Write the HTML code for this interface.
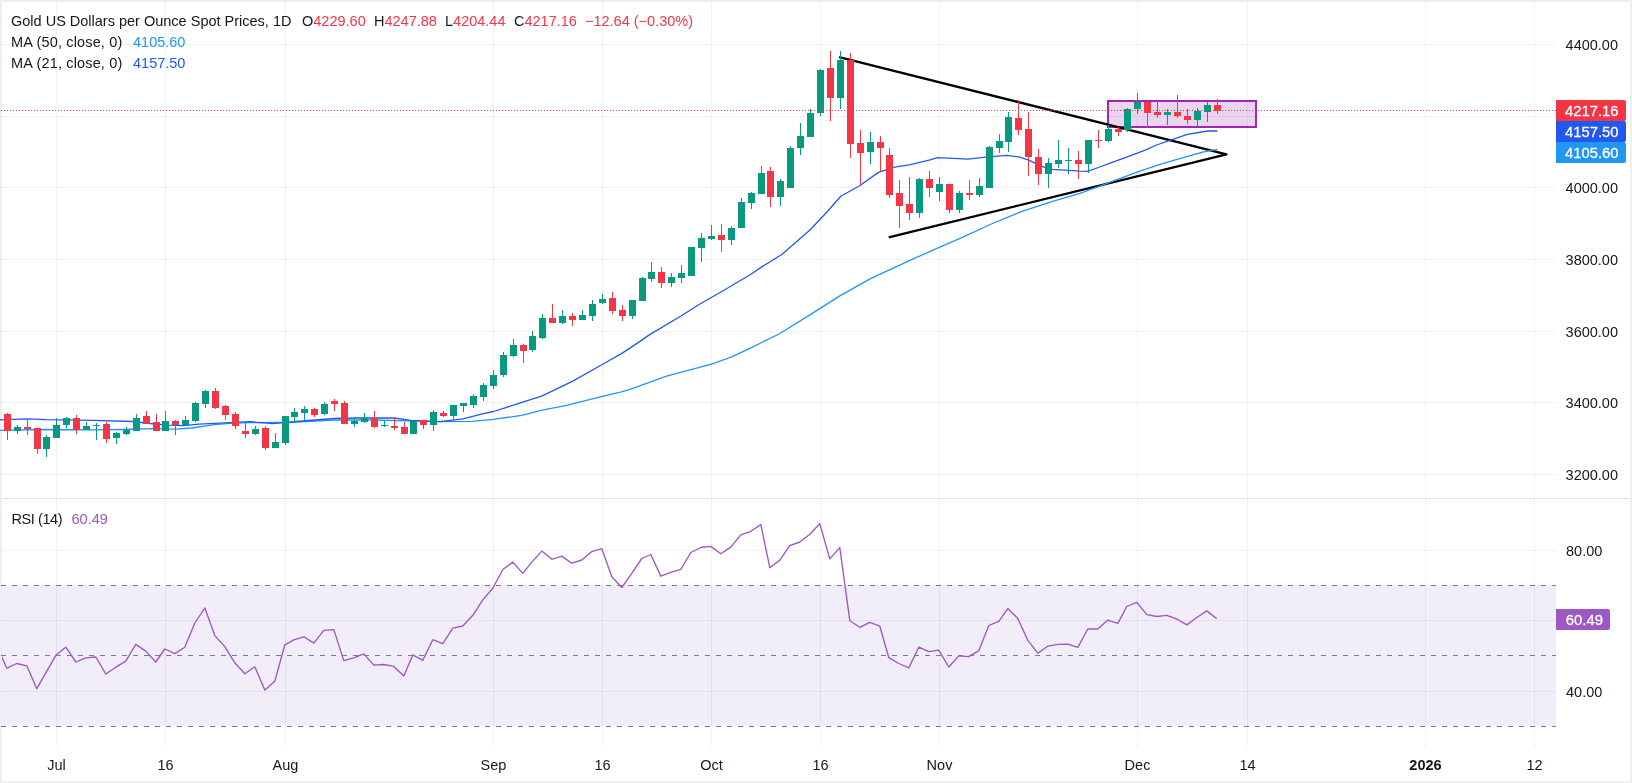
<!DOCTYPE html><html><head><meta charset="utf-8"><style>html,body{margin:0;padding:0;background:#fff;overflow:hidden;}svg{display:block;will-change:transform;}text{font-family:"Liberation Sans",sans-serif;}</style></head><body>
<svg width="1632" height="783" viewBox="0 0 1632 783" shape-rendering="crispEdges">
<rect x="0" y="0" width="1632" height="783" fill="#fff"/>
<rect x="0" y="0" width="1632" height="2" fill="#ECEEF2"/>
<rect x="0" y="781" width="1632" height="2" fill="#ECEEF2"/>
<rect x="0" y="0" width="2" height="783" fill="#ECEEF2"/>
<rect x="1630" y="0" width="2" height="783" fill="#ECEEF2"/>
<rect x="2" y="585" width="1554" height="141" fill="#F1EDF9"/>
<rect x="2" y="44" width="1554" height="1" fill="#2A2E39" fill-opacity="0.065"/>
<rect x="2" y="116" width="1554" height="1" fill="#2A2E39" fill-opacity="0.065"/>
<rect x="2" y="187" width="1554" height="1" fill="#2A2E39" fill-opacity="0.065"/>
<rect x="2" y="259" width="1554" height="1" fill="#2A2E39" fill-opacity="0.065"/>
<rect x="2" y="331" width="1554" height="1" fill="#2A2E39" fill-opacity="0.065"/>
<rect x="2" y="402" width="1554" height="1" fill="#2A2E39" fill-opacity="0.065"/>
<rect x="2" y="474" width="1554" height="1" fill="#2A2E39" fill-opacity="0.065"/>
<rect x="2" y="550" width="1554" height="1" fill="#2A2E39" fill-opacity="0.065"/>
<rect x="2" y="620" width="1554" height="1" fill="#2A2E39" fill-opacity="0.065"/>
<rect x="2" y="691" width="1554" height="1" fill="#2A2E39" fill-opacity="0.065"/>
<rect x="56" y="2" width="1" height="496" fill="#2A2E39" fill-opacity="0.065"/>
<rect x="56" y="499" width="1" height="248" fill="#2A2E39" fill-opacity="0.065"/>
<rect x="165" y="2" width="1" height="496" fill="#2A2E39" fill-opacity="0.065"/>
<rect x="165" y="499" width="1" height="248" fill="#2A2E39" fill-opacity="0.065"/>
<rect x="285" y="2" width="1" height="496" fill="#2A2E39" fill-opacity="0.065"/>
<rect x="285" y="499" width="1" height="248" fill="#2A2E39" fill-opacity="0.065"/>
<rect x="493" y="2" width="1" height="496" fill="#2A2E39" fill-opacity="0.065"/>
<rect x="493" y="499" width="1" height="248" fill="#2A2E39" fill-opacity="0.065"/>
<rect x="602" y="2" width="1" height="496" fill="#2A2E39" fill-opacity="0.065"/>
<rect x="602" y="499" width="1" height="248" fill="#2A2E39" fill-opacity="0.065"/>
<rect x="711" y="2" width="1" height="496" fill="#2A2E39" fill-opacity="0.065"/>
<rect x="711" y="499" width="1" height="248" fill="#2A2E39" fill-opacity="0.065"/>
<rect x="820" y="2" width="1" height="496" fill="#2A2E39" fill-opacity="0.065"/>
<rect x="820" y="499" width="1" height="248" fill="#2A2E39" fill-opacity="0.065"/>
<rect x="939" y="2" width="1" height="496" fill="#2A2E39" fill-opacity="0.065"/>
<rect x="939" y="499" width="1" height="248" fill="#2A2E39" fill-opacity="0.065"/>
<rect x="1137" y="2" width="1" height="496" fill="#2A2E39" fill-opacity="0.065"/>
<rect x="1137" y="499" width="1" height="248" fill="#2A2E39" fill-opacity="0.065"/>
<rect x="1247" y="2" width="1" height="496" fill="#2A2E39" fill-opacity="0.065"/>
<rect x="1247" y="499" width="1" height="248" fill="#2A2E39" fill-opacity="0.065"/>
<rect x="1425" y="2" width="1" height="496" fill="#2A2E39" fill-opacity="0.065"/>
<rect x="1425" y="499" width="1" height="248" fill="#2A2E39" fill-opacity="0.065"/>
<rect x="1534" y="2" width="1" height="496" fill="#2A2E39" fill-opacity="0.065"/>
<rect x="1534" y="499" width="1" height="248" fill="#2A2E39" fill-opacity="0.065"/>
<rect x="2" y="498" width="1628" height="1" fill="#E0E3EB"/>
<line x1="1" y1="585.5" x2="1556" y2="585.5" stroke="#787B86" stroke-width="1" stroke-dasharray="5,6"/>
<line x1="1" y1="655.5" x2="1556" y2="655.5" stroke="#787B86" stroke-width="1" stroke-dasharray="5,6"/>
<line x1="1" y1="726.5" x2="1556" y2="726.5" stroke="#787B86" stroke-width="1" stroke-dasharray="5,6"/>
<rect x="1108" y="101" width="148" height="26" fill="#9C27B0" fill-opacity="0.2" stroke="#9C27B0" stroke-width="2" shape-rendering="geometricPrecision"/>
<polyline points="839.1,57.2 1226.4,154.4 888.7,237.4" fill="none" stroke="#000" stroke-width="2.4" shape-rendering="geometricPrecision" stroke-linejoin="round" stroke-linecap="butt"/>
<polyline points="0.0,430.3 46.0,429.5 92.0,429.8 122.5,429.5 153.2,428.7 176.0,429.2 191.5,428.0 214.5,424.6 229.8,423.4 250.0,422.6 296.0,422.2 334.3,420.0 372.5,420.0 418.5,421.1 440.0,421.7 471.9,421.3 493.6,419.4 521.7,415.3 542.2,410.2 567.7,405.1 602.2,396.4 621.4,391.9 630.0,389.4 666.5,376.2 711.5,364.1 731.2,357.1 750.9,347.8 779.0,334.0 809.9,314.9 839.4,296.1 870.0,278.9 909.4,260.7 939.2,247.3 960.7,238.1 991.3,224.0 1022.0,211.3 1052.6,201.3 1080.0,193.4 1100.4,185.9 1120.9,178.2 1141.3,170.6 1161.7,163.9 1182.2,157.8 1202.6,152.2 1217.4,149.4" fill="none" stroke="#2196F3" stroke-width="1.3" shape-rendering="geometricPrecision" stroke-linejoin="round"/>
<polyline points="0.0,419.9 27.0,418.8 46.0,419.6 92.0,420.3 133.0,421.5 150.0,423.5 168.5,425.2 183.8,425.7 199.0,424.1 229.8,422.6 250.0,421.7 273.0,423.7 296.0,421.5 334.3,418.5 357.2,418.0 394.0,418.0 410.8,420.3 440.0,421.7 463.0,418.8 483.4,413.7 493.6,411.5 516.6,404.1 542.2,395.8 572.8,381.1 602.2,364.5 621.4,353.6 630.0,348.1 649.7,334.6 680.6,316.3 700.3,303.7 722.7,291.0 750.9,274.2 762.1,266.6 781.8,254.5 809.9,230.0 826.7,212.3 840.8,196.3 860.0,185.5 878.4,172.4 894.5,167.1 909.4,164.8 930.0,159.9 937.7,157.6 968.3,159.2 985.2,157.2 1006.6,155.3 1018.9,156.9 1028.1,159.9 1045.0,167.6 1052.6,169.4 1080.0,171.1 1087.2,171.3 1098.4,167.5 1110.7,162.9 1126.0,157.3 1146.4,149.6 1156.6,145.0 1169.9,140.4 1187.3,134.3 1207.7,131.0 1217.4,131.0" fill="none" stroke="#2158F0" stroke-width="1.3" shape-rendering="geometricPrecision" stroke-linejoin="round"/>
<rect x="7" y="413" width="1" height="27" fill="#F23645"/>
<rect x="4" y="414" width="7" height="17" fill="#F23645"/>
<rect x="17" y="425" width="1" height="9" fill="#089981"/>
<rect x="14" y="427" width="7" height="4" fill="#089981"/>
<rect x="27" y="420" width="1" height="15" fill="#F23645"/>
<rect x="24" y="427" width="7" height="2" fill="#F23645"/>
<rect x="37" y="428" width="1" height="26" fill="#F23645"/>
<rect x="34" y="428" width="7" height="21" fill="#F23645"/>
<rect x="46" y="435" width="1" height="22" fill="#089981"/>
<rect x="43" y="437" width="7" height="12" fill="#089981"/>
<rect x="56" y="418" width="1" height="20" fill="#089981"/>
<rect x="53" y="425" width="7" height="13" fill="#089981"/>
<rect x="66" y="417" width="1" height="11" fill="#089981"/>
<rect x="63" y="418" width="7" height="7" fill="#089981"/>
<rect x="76" y="415" width="1" height="19" fill="#F23645"/>
<rect x="73" y="418" width="7" height="12" fill="#F23645"/>
<rect x="86" y="422" width="1" height="8" fill="#089981"/>
<rect x="83" y="426" width="7" height="4" fill="#089981"/>
<rect x="96" y="423" width="1" height="17" fill="#089981"/>
<rect x="93" y="425" width="7" height="1" fill="#089981"/>
<rect x="106" y="422" width="1" height="21" fill="#F23645"/>
<rect x="103" y="424" width="7" height="15" fill="#F23645"/>
<rect x="116" y="432" width="1" height="12" fill="#089981"/>
<rect x="113" y="433" width="7" height="5" fill="#089981"/>
<rect x="126" y="427" width="1" height="8" fill="#089981"/>
<rect x="123" y="430" width="7" height="4" fill="#089981"/>
<rect x="136" y="414" width="1" height="17" fill="#089981"/>
<rect x="133" y="418" width="7" height="13" fill="#089981"/>
<rect x="146" y="411" width="1" height="13" fill="#F23645"/>
<rect x="143" y="416" width="7" height="8" fill="#F23645"/>
<rect x="156" y="414" width="1" height="17" fill="#F23645"/>
<rect x="153" y="422" width="7" height="9" fill="#F23645"/>
<rect x="165" y="411" width="1" height="20" fill="#089981"/>
<rect x="162" y="421" width="7" height="10" fill="#089981"/>
<rect x="175" y="420" width="1" height="15" fill="#F23645"/>
<rect x="172" y="421" width="7" height="4" fill="#F23645"/>
<rect x="185" y="416" width="1" height="10" fill="#089981"/>
<rect x="182" y="420" width="7" height="5" fill="#089981"/>
<rect x="195" y="402" width="1" height="20" fill="#089981"/>
<rect x="192" y="403" width="7" height="18" fill="#089981"/>
<rect x="205" y="390" width="1" height="18" fill="#089981"/>
<rect x="202" y="391" width="7" height="13" fill="#089981"/>
<rect x="215" y="388" width="1" height="21" fill="#F23645"/>
<rect x="212" y="391" width="7" height="17" fill="#F23645"/>
<rect x="225" y="405" width="1" height="15" fill="#F23645"/>
<rect x="222" y="406" width="7" height="9" fill="#F23645"/>
<rect x="235" y="412" width="1" height="17" fill="#F23645"/>
<rect x="232" y="414" width="7" height="12" fill="#F23645"/>
<rect x="245" y="422" width="1" height="16" fill="#F23645"/>
<rect x="242" y="431" width="7" height="3" fill="#F23645"/>
<rect x="255" y="426" width="1" height="9" fill="#089981"/>
<rect x="252" y="429" width="7" height="5" fill="#089981"/>
<rect x="265" y="426" width="1" height="24" fill="#F23645"/>
<rect x="262" y="428" width="7" height="20" fill="#F23645"/>
<rect x="275" y="433" width="1" height="15" fill="#089981"/>
<rect x="272" y="442" width="7" height="6" fill="#089981"/>
<rect x="285" y="416" width="1" height="29" fill="#089981"/>
<rect x="282" y="416" width="7" height="27" fill="#089981"/>
<rect x="294" y="408" width="1" height="14" fill="#089981"/>
<rect x="291" y="412" width="7" height="5" fill="#089981"/>
<rect x="304" y="406" width="1" height="14" fill="#089981"/>
<rect x="301" y="409" width="7" height="4" fill="#089981"/>
<rect x="314" y="408" width="1" height="9" fill="#F23645"/>
<rect x="311" y="409" width="7" height="6" fill="#F23645"/>
<rect x="324" y="402" width="1" height="13" fill="#089981"/>
<rect x="321" y="404" width="7" height="10" fill="#089981"/>
<rect x="334" y="399" width="1" height="12" fill="#F23645"/>
<rect x="331" y="401" width="7" height="3" fill="#F23645"/>
<rect x="344" y="401" width="1" height="23" fill="#F23645"/>
<rect x="341" y="403" width="7" height="21" fill="#F23645"/>
<rect x="354" y="417" width="1" height="10" fill="#089981"/>
<rect x="351" y="421" width="7" height="3" fill="#089981"/>
<rect x="364" y="413" width="1" height="10" fill="#089981"/>
<rect x="361" y="418" width="7" height="4" fill="#089981"/>
<rect x="374" y="411" width="1" height="17" fill="#F23645"/>
<rect x="371" y="418" width="7" height="9" fill="#F23645"/>
<rect x="384" y="421" width="1" height="6" fill="#089981"/>
<rect x="381" y="425" width="7" height="1" fill="#089981"/>
<rect x="394" y="417" width="1" height="13" fill="#F23645"/>
<rect x="391" y="426" width="7" height="2" fill="#F23645"/>
<rect x="404" y="422" width="1" height="12" fill="#F23645"/>
<rect x="401" y="427" width="7" height="7" fill="#F23645"/>
<rect x="413" y="420" width="1" height="14" fill="#089981"/>
<rect x="410" y="421" width="7" height="13" fill="#089981"/>
<rect x="423" y="420" width="1" height="9" fill="#F23645"/>
<rect x="420" y="420" width="7" height="5" fill="#F23645"/>
<rect x="433" y="410" width="1" height="21" fill="#089981"/>
<rect x="430" y="412" width="7" height="13" fill="#089981"/>
<rect x="443" y="411" width="1" height="6" fill="#F23645"/>
<rect x="440" y="413" width="7" height="3" fill="#F23645"/>
<rect x="453" y="405" width="1" height="15" fill="#089981"/>
<rect x="450" y="405" width="7" height="11" fill="#089981"/>
<rect x="463" y="403" width="1" height="9" fill="#089981"/>
<rect x="460" y="403" width="7" height="3" fill="#089981"/>
<rect x="473" y="394" width="1" height="14" fill="#089981"/>
<rect x="470" y="396" width="7" height="9" fill="#089981"/>
<rect x="483" y="383" width="1" height="18" fill="#089981"/>
<rect x="480" y="385" width="7" height="12" fill="#089981"/>
<rect x="493" y="370" width="1" height="19" fill="#089981"/>
<rect x="490" y="375" width="7" height="11" fill="#089981"/>
<rect x="503" y="352" width="1" height="25" fill="#089981"/>
<rect x="500" y="355" width="7" height="20" fill="#089981"/>
<rect x="513" y="339" width="1" height="18" fill="#089981"/>
<rect x="510" y="345" width="7" height="11" fill="#089981"/>
<rect x="523" y="344" width="1" height="19" fill="#F23645"/>
<rect x="520" y="345" width="7" height="6" fill="#F23645"/>
<rect x="532" y="331" width="1" height="21" fill="#089981"/>
<rect x="529" y="336" width="7" height="14" fill="#089981"/>
<rect x="542" y="314" width="1" height="25" fill="#089981"/>
<rect x="539" y="318" width="7" height="20" fill="#089981"/>
<rect x="552" y="304" width="1" height="19" fill="#F23645"/>
<rect x="549" y="318" width="7" height="5" fill="#F23645"/>
<rect x="562" y="310" width="1" height="14" fill="#089981"/>
<rect x="559" y="316" width="7" height="7" fill="#089981"/>
<rect x="572" y="313" width="1" height="13" fill="#F23645"/>
<rect x="569" y="316" width="7" height="4" fill="#F23645"/>
<rect x="582" y="310" width="1" height="10" fill="#089981"/>
<rect x="579" y="315" width="7" height="5" fill="#089981"/>
<rect x="592" y="300" width="1" height="21" fill="#089981"/>
<rect x="589" y="304" width="7" height="12" fill="#089981"/>
<rect x="602" y="294" width="1" height="10" fill="#089981"/>
<rect x="599" y="299" width="7" height="4" fill="#089981"/>
<rect x="612" y="292" width="1" height="22" fill="#F23645"/>
<rect x="609" y="298" width="7" height="13" fill="#F23645"/>
<rect x="622" y="305" width="1" height="16" fill="#F23645"/>
<rect x="619" y="310" width="7" height="6" fill="#F23645"/>
<rect x="632" y="300" width="1" height="19" fill="#089981"/>
<rect x="629" y="300" width="7" height="16" fill="#089981"/>
<rect x="642" y="277" width="1" height="24" fill="#089981"/>
<rect x="639" y="278" width="7" height="23" fill="#089981"/>
<rect x="651" y="262" width="1" height="20" fill="#089981"/>
<rect x="648" y="272" width="7" height="7" fill="#089981"/>
<rect x="661" y="267" width="1" height="21" fill="#F23645"/>
<rect x="658" y="272" width="7" height="11" fill="#F23645"/>
<rect x="671" y="273" width="1" height="14" fill="#089981"/>
<rect x="668" y="277" width="7" height="6" fill="#089981"/>
<rect x="681" y="265" width="1" height="18" fill="#089981"/>
<rect x="678" y="273" width="7" height="5" fill="#089981"/>
<rect x="691" y="247" width="1" height="29" fill="#089981"/>
<rect x="688" y="247" width="7" height="29" fill="#089981"/>
<rect x="701" y="233" width="1" height="29" fill="#089981"/>
<rect x="698" y="238" width="7" height="10" fill="#089981"/>
<rect x="711" y="225" width="1" height="15" fill="#089981"/>
<rect x="708" y="236" width="7" height="3" fill="#089981"/>
<rect x="721" y="224" width="1" height="28" fill="#F23645"/>
<rect x="718" y="235" width="7" height="5" fill="#F23645"/>
<rect x="731" y="226" width="1" height="19" fill="#089981"/>
<rect x="728" y="228" width="7" height="12" fill="#089981"/>
<rect x="741" y="198" width="1" height="30" fill="#089981"/>
<rect x="738" y="202" width="7" height="26" fill="#089981"/>
<rect x="751" y="192" width="1" height="17" fill="#089981"/>
<rect x="748" y="193" width="7" height="10" fill="#089981"/>
<rect x="761" y="166" width="1" height="28" fill="#089981"/>
<rect x="758" y="173" width="7" height="21" fill="#089981"/>
<rect x="770" y="167" width="1" height="40" fill="#F23645"/>
<rect x="767" y="171" width="7" height="26" fill="#F23645"/>
<rect x="780" y="179" width="1" height="27" fill="#089981"/>
<rect x="777" y="181" width="7" height="16" fill="#089981"/>
<rect x="790" y="146" width="1" height="42" fill="#089981"/>
<rect x="787" y="148" width="7" height="40" fill="#089981"/>
<rect x="800" y="123" width="1" height="32" fill="#089981"/>
<rect x="797" y="136" width="7" height="12" fill="#089981"/>
<rect x="810" y="109" width="1" height="28" fill="#089981"/>
<rect x="807" y="113" width="7" height="24" fill="#089981"/>
<rect x="820" y="69" width="1" height="47" fill="#089981"/>
<rect x="817" y="70" width="7" height="43" fill="#089981"/>
<rect x="830" y="51" width="1" height="70" fill="#F23645"/>
<rect x="827" y="68" width="7" height="30" fill="#F23645"/>
<rect x="840" y="51" width="1" height="58" fill="#089981"/>
<rect x="837" y="60" width="7" height="38" fill="#089981"/>
<rect x="850" y="53" width="1" height="105" fill="#F23645"/>
<rect x="847" y="60" width="7" height="84" fill="#F23645"/>
<rect x="860" y="130" width="1" height="55" fill="#F23645"/>
<rect x="857" y="143" width="7" height="10" fill="#F23645"/>
<rect x="870" y="132" width="1" height="32" fill="#089981"/>
<rect x="867" y="142" width="7" height="10" fill="#089981"/>
<rect x="880" y="136" width="1" height="36" fill="#F23645"/>
<rect x="877" y="142" width="7" height="6" fill="#F23645"/>
<rect x="889" y="148" width="1" height="50" fill="#F23645"/>
<rect x="886" y="155" width="7" height="40" fill="#F23645"/>
<rect x="899" y="180" width="1" height="48" fill="#F23645"/>
<rect x="896" y="193" width="7" height="13" fill="#F23645"/>
<rect x="909" y="177" width="1" height="43" fill="#F23645"/>
<rect x="906" y="204" width="7" height="9" fill="#F23645"/>
<rect x="919" y="178" width="1" height="40" fill="#089981"/>
<rect x="916" y="179" width="7" height="34" fill="#089981"/>
<rect x="929" y="171" width="1" height="26" fill="#F23645"/>
<rect x="926" y="179" width="7" height="9" fill="#F23645"/>
<rect x="939" y="177" width="1" height="24" fill="#089981"/>
<rect x="936" y="184" width="7" height="8" fill="#089981"/>
<rect x="949" y="184" width="1" height="29" fill="#F23645"/>
<rect x="946" y="184" width="7" height="26" fill="#F23645"/>
<rect x="959" y="191" width="1" height="22" fill="#089981"/>
<rect x="956" y="193" width="7" height="17" fill="#089981"/>
<rect x="969" y="180" width="1" height="20" fill="#F23645"/>
<rect x="966" y="193" width="7" height="2" fill="#F23645"/>
<rect x="979" y="178" width="1" height="19" fill="#089981"/>
<rect x="976" y="186" width="7" height="9" fill="#089981"/>
<rect x="989" y="146" width="1" height="42" fill="#089981"/>
<rect x="986" y="147" width="7" height="41" fill="#089981"/>
<rect x="999" y="134" width="1" height="19" fill="#089981"/>
<rect x="996" y="141" width="7" height="7" fill="#089981"/>
<rect x="1008" y="112" width="1" height="40" fill="#089981"/>
<rect x="1005" y="117" width="7" height="25" fill="#089981"/>
<rect x="1018" y="100" width="1" height="35" fill="#F23645"/>
<rect x="1015" y="118" width="7" height="12" fill="#F23645"/>
<rect x="1028" y="112" width="1" height="64" fill="#F23645"/>
<rect x="1025" y="129" width="7" height="28" fill="#F23645"/>
<rect x="1038" y="149" width="1" height="36" fill="#F23645"/>
<rect x="1035" y="157" width="7" height="17" fill="#F23645"/>
<rect x="1048" y="158" width="1" height="30" fill="#089981"/>
<rect x="1045" y="163" width="7" height="11" fill="#089981"/>
<rect x="1058" y="140" width="1" height="28" fill="#089981"/>
<rect x="1055" y="160" width="7" height="4" fill="#089981"/>
<rect x="1068" y="148" width="1" height="26" fill="#089981"/>
<rect x="1065" y="160" width="7" height="1" fill="#089981"/>
<rect x="1078" y="151" width="1" height="28" fill="#F23645"/>
<rect x="1075" y="160" width="7" height="4" fill="#F23645"/>
<rect x="1088" y="140" width="1" height="33" fill="#089981"/>
<rect x="1085" y="140" width="7" height="24" fill="#089981"/>
<rect x="1098" y="130" width="1" height="18" fill="#F23645"/>
<rect x="1095" y="140" width="7" height="1" fill="#F23645"/>
<rect x="1108" y="125" width="1" height="17" fill="#089981"/>
<rect x="1105" y="129" width="7" height="12" fill="#089981"/>
<rect x="1118" y="127" width="1" height="9" fill="#F23645"/>
<rect x="1115" y="129" width="7" height="3" fill="#F23645"/>
<rect x="1127" y="108" width="1" height="24" fill="#089981"/>
<rect x="1124" y="109" width="7" height="21" fill="#089981"/>
<rect x="1137" y="93" width="1" height="21" fill="#089981"/>
<rect x="1134" y="102" width="7" height="7" fill="#089981"/>
<rect x="1147" y="101" width="1" height="27" fill="#F23645"/>
<rect x="1144" y="102" width="7" height="11" fill="#F23645"/>
<rect x="1157" y="101" width="1" height="17" fill="#F23645"/>
<rect x="1154" y="112" width="7" height="3" fill="#F23645"/>
<rect x="1167" y="109" width="1" height="16" fill="#089981"/>
<rect x="1164" y="112" width="7" height="3" fill="#089981"/>
<rect x="1177" y="95" width="1" height="23" fill="#F23645"/>
<rect x="1174" y="112" width="7" height="4" fill="#F23645"/>
<rect x="1187" y="109" width="1" height="15" fill="#F23645"/>
<rect x="1184" y="116" width="7" height="4" fill="#F23645"/>
<rect x="1197" y="108" width="1" height="18" fill="#089981"/>
<rect x="1194" y="111" width="7" height="9" fill="#089981"/>
<rect x="1207" y="102" width="1" height="20" fill="#089981"/>
<rect x="1204" y="105" width="7" height="7" fill="#089981"/>
<rect x="1217" y="99" width="1" height="15" fill="#F23645"/>
<rect x="1214" y="105" width="7" height="6" fill="#F23645"/>
<line x1="1" y1="110.5" x2="1556" y2="110.5" stroke="#F23645" stroke-width="1" stroke-dasharray="1,2"/>
<svg x="2" y="499" width="1554" height="248" viewBox="2 499 1554 248" overflow="hidden"><polyline points="-3.0,646.0 6.8,668.2 16.8,663.5 26.8,665.8 36.8,688.7 45.8,672.9 55.8,655.3 65.8,647.2 75.8,662.0 85.8,657.8 95.8,657.0 105.8,674.0 115.8,667.2 125.8,661.2 135.8,644.4 145.8,651.1 155.8,662.0 164.8,649.0 174.8,653.6 184.8,647.3 194.8,623.0 204.8,608.0 214.8,635.6 224.8,646.6 234.8,662.8 244.8,673.8 254.8,666.8 264.8,690.0 274.8,681.3 284.8,644.8 293.8,639.9 303.8,636.8 313.8,643.1 323.8,630.4 333.8,629.6 343.8,660.6 353.8,657.8 363.8,653.9 373.8,665.1 383.8,664.5 393.8,666.4 403.8,676.1 412.8,654.9 422.8,660.3 432.8,639.7 442.8,643.6 452.8,628.2 462.8,626.0 472.8,615.3 482.8,599.9 492.8,588.2 502.8,569.5 512.8,562.1 522.8,573.4 531.8,562.1 541.8,551.1 551.8,559.3 561.8,556.1 571.8,563.2 581.8,560.0 591.8,551.6 601.8,548.7 611.8,576.7 621.8,587.5 631.8,573.4 641.8,558.5 650.8,554.5 660.8,576.1 670.8,572.3 680.8,569.3 690.8,552.5 700.8,547.5 710.8,546.4 720.8,553.8 730.8,547.1 740.8,534.9 750.8,531.3 760.8,524.6 769.8,567.7 779.8,560.1 789.8,545.6 799.8,542.0 809.8,534.3 819.8,523.7 829.8,558.9 839.8,547.6 849.8,620.7 859.8,627.3 869.8,622.3 879.8,626.2 888.8,657.7 898.8,663.5 908.8,667.9 918.8,647.2 928.8,651.6 938.8,650.1 948.8,667.0 958.8,655.9 968.8,656.6 978.8,650.7 988.8,625.5 998.8,621.4 1007.8,608.6 1017.8,618.5 1027.8,640.3 1037.8,653.2 1047.8,646.2 1057.8,644.4 1067.8,644.1 1077.8,647.4 1087.8,629.0 1097.8,629.0 1107.8,620.1 1117.8,623.4 1126.8,606.5 1136.8,602.4 1146.8,614.6 1156.8,616.5 1166.8,615.3 1176.8,619.0 1186.8,624.9 1196.8,617.5 1206.8,610.9 1216.8,618.7" fill="none" stroke="#9E57C3" stroke-width="1.35" shape-rendering="geometricPrecision" stroke-linejoin="round"/></svg>
<text x="1618" y="49.5" font-size="14.5" fill="#131722" text-anchor="end" shape-rendering="geometricPrecision">4400.00</text>
<text x="1618" y="192.5" font-size="14.5" fill="#131722" text-anchor="end" shape-rendering="geometricPrecision">4000.00</text>
<text x="1618" y="264.5" font-size="14.5" fill="#131722" text-anchor="end" shape-rendering="geometricPrecision">3800.00</text>
<text x="1618" y="336.5" font-size="14.5" fill="#131722" text-anchor="end" shape-rendering="geometricPrecision">3600.00</text>
<text x="1618" y="407.5" font-size="14.5" fill="#131722" text-anchor="end" shape-rendering="geometricPrecision">3400.00</text>
<text x="1618" y="479.5" font-size="14.5" fill="#131722" text-anchor="end" shape-rendering="geometricPrecision">3200.00</text>
<text x="1602.3" y="555.5" font-size="14.5" fill="#131722" text-anchor="end" shape-rendering="geometricPrecision">80.00</text>
<text x="1602.3" y="696.5" font-size="14.5" fill="#131722" text-anchor="end" shape-rendering="geometricPrecision">40.00</text>
<path d="M1556 100 H1624 Q1626 100 1626 102 V119 Q1626 121 1624 121 H1556 Z" fill="#F23645" shape-rendering="geometricPrecision"/>
<text x="1618.5" y="116.1" font-size="15.4" fill="#fff" stroke="#fff" stroke-width="0.3" text-anchor="end" textLength="53.4" lengthAdjust="spacingAndGlyphs" shape-rendering="geometricPrecision">4217.16</text>
<path d="M1556 121 H1624 Q1626 121 1626 123 V140 Q1626 142 1624 142 H1556 Z" fill="#2158F0" shape-rendering="geometricPrecision"/>
<text x="1618.5" y="137.1" font-size="15.4" fill="#fff" stroke="#fff" stroke-width="0.3" text-anchor="end" textLength="53.4" lengthAdjust="spacingAndGlyphs" shape-rendering="geometricPrecision">4157.50</text>
<path d="M1556 142 H1624 Q1626 142 1626 144 V161 Q1626 163 1624 163 H1556 Z" fill="#2196F3" shape-rendering="geometricPrecision"/>
<text x="1618.5" y="158.1" font-size="15.4" fill="#fff" stroke="#fff" stroke-width="0.3" text-anchor="end" textLength="53.4" lengthAdjust="spacingAndGlyphs" shape-rendering="geometricPrecision">4105.60</text>
<path d="M1556 609 H1608 Q1610 609 1610 611 V628 Q1610 630 1608 630 H1556 Z" fill="#9E57C3" shape-rendering="geometricPrecision"/>
<text x="1603" y="625.1" font-size="15.4" fill="#fff" stroke="#fff" stroke-width="0.3" text-anchor="end" textLength="37.2" lengthAdjust="spacingAndGlyphs" shape-rendering="geometricPrecision">60.49</text>
<text x="56.5" y="770" font-size="14.5" fill="#131722" text-anchor="middle" shape-rendering="geometricPrecision">Jul</text>
<text x="165.5" y="770" font-size="14.5" fill="#131722" text-anchor="middle" shape-rendering="geometricPrecision">16</text>
<text x="285.5" y="770" font-size="14.5" fill="#131722" text-anchor="middle" shape-rendering="geometricPrecision">Aug</text>
<text x="493.5" y="770" font-size="14.5" fill="#131722" text-anchor="middle" shape-rendering="geometricPrecision">Sep</text>
<text x="602.5" y="770" font-size="14.5" fill="#131722" text-anchor="middle" shape-rendering="geometricPrecision">16</text>
<text x="711.5" y="770" font-size="14.5" fill="#131722" text-anchor="middle" shape-rendering="geometricPrecision">Oct</text>
<text x="820.5" y="770" font-size="14.5" fill="#131722" text-anchor="middle" shape-rendering="geometricPrecision">16</text>
<text x="939.5" y="770" font-size="14.5" fill="#131722" text-anchor="middle" shape-rendering="geometricPrecision">Nov</text>
<text x="1137.5" y="770" font-size="14.5" fill="#131722" text-anchor="middle" shape-rendering="geometricPrecision">Dec</text>
<text x="1247.5" y="770" font-size="14.5" fill="#131722" text-anchor="middle" shape-rendering="geometricPrecision">14</text>
<text x="1425.5" y="770" font-size="14.5" fill="#131722" text-anchor="middle" font-weight="bold" shape-rendering="geometricPrecision">2026</text>
<text x="1534.5" y="770" font-size="14.5" fill="#131722" text-anchor="middle" shape-rendering="geometricPrecision">12</text>
<text x="11" y="25.6" font-size="14.5" fill="#131722" shape-rendering="geometricPrecision">Gold US Dollars per Ounce Spot Prices, 1D</text>
<text x="302" y="25.6" font-size="14.5" shape-rendering="geometricPrecision"><tspan fill="#131722">O</tspan><tspan fill="#F23645">4229.60</tspan></text>
<text x="374" y="25.6" font-size="14.5" shape-rendering="geometricPrecision"><tspan fill="#131722">H</tspan><tspan fill="#F23645">4247.88</tspan></text>
<text x="445" y="25.6" font-size="14.5" shape-rendering="geometricPrecision"><tspan fill="#131722">L</tspan><tspan fill="#F23645">4204.44</tspan></text>
<text x="514" y="25.6" font-size="14.5" shape-rendering="geometricPrecision"><tspan fill="#131722">C</tspan><tspan fill="#F23645">4217.16</tspan></text>
<text x="585" y="25.6" font-size="14.5" fill="#F23645" shape-rendering="geometricPrecision">−12.64 (−0.30%)</text>
<text x="11" y="46.7" font-size="14.5" fill="#131722" textLength="111.3" shape-rendering="geometricPrecision">MA (50, close, 0)</text>
<text x="133" y="46.7" font-size="14.5" fill="#2196F3" shape-rendering="geometricPrecision">4105.60</text>
<text x="11" y="67.5" font-size="14.5" fill="#131722" textLength="111.3" shape-rendering="geometricPrecision">MA (21, close, 0)</text>
<text x="133" y="67.5" font-size="14.5" fill="#2158F0" shape-rendering="geometricPrecision">4157.50</text>
<text x="11.5" y="523.8" font-size="14.5" fill="#131722" textLength="51" shape-rendering="geometricPrecision">RSI (14)</text>
<text x="71.5" y="523.8" font-size="14.5" fill="#9E57C3" shape-rendering="geometricPrecision">60.49</text>
</svg></body></html>
